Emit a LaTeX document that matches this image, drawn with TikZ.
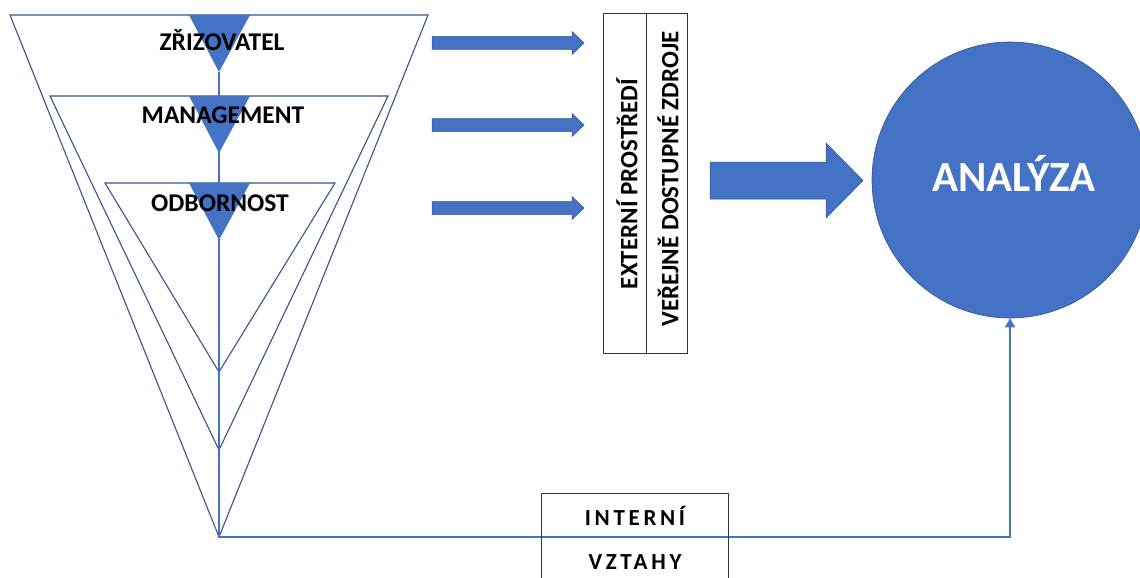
\documentclass[tikz,border=0pt]{standalone}
\usepackage{fontspec}
\setmainfont{Carlito}
\usetikzlibrary{arrows.meta}
\definecolor{ofblue}{HTML}{4472C4}
\definecolor{ofdark}{HTML}{2F528F}
\definecolor{trline}{HTML}{34548A}
\begin{document}
\begin{tikzpicture}[x=1pt,y=-1pt,
  funnel/.style={draw=trline,line width=1.1pt},
  marker/.style={fill=ofblue,draw=none},
  label/.style={font=\bfseries\fontsize{25.5}{25.5}\selectfont,text=black,inner sep=0pt},
  blockarrow/.style={fill=ofblue,draw=ofdark,line width=0.5pt},
  conn/.style={draw=ofblue,line width=2pt},
  frame/.style={draw=black!80,line width=0.9pt},
  vtext/.style={font=\bfseries\fontsize{25}{25}\selectfont,rotate=90,inner sep=0pt},
  spaced/.style={font=\bfseries\fontsize{23}{23}\selectfont\addfontfeatures{LetterSpace=16},inner sep=0pt}]
\useasboundingbox (0,0) rectangle (1140,578);
% funnel triangles
\draw[funnel] (10,15) -- (428,15) -- (219,537) -- cycle;
\draw[funnel] (50,96) -- (388,96) -- (219,450) -- cycle;
\draw[funnel] (105,183) -- (335,183) -- (219,372) -- cycle;
% named points
\coordinate (t1) at (219,72);
\coordinate (apex) at (219,537);
% target circle
\node[circle,fill=ofblue,draw=ofdark,line width=0.6pt,minimum size=276pt,inner sep=0pt] (circ) at (1010,180) {};
% connector
\draw[conn,-{Triangle[length=9pt,width=10pt]}] (t1) -- (apex) -| (circ.south);
% blue markers
\fill[marker] (189,15) -- (250,15) -- (219,72) -- cycle;
\fill[marker] (189,96) -- (250,96) -- (219,153) -- cycle;
\fill[marker] (189,183) -- (250,183) -- (219,240) -- cycle;
% level labels
\node[label] (zriz) at (222,40) {ZŘIZOVATEL};
\node[label] (mgmt) at (223,115) {MANAGEMENT};
\node[label] (odb) at (220,203) {ODBORNOST};
% small arrows
\foreach \y in {43,125,208}{
  \draw[blockarrow] (432,\y-6.5) -- (572,\y-6.5) -- (572,\y-11.5) -- (584,\y) -- (572,\y+11.5) -- (572,\y+6.5) -- (432,\y+6.5) -- cycle;
}
% external box
\node[frame,minimum width=43pt,minimum height=340pt,inner sep=0pt] (ext) at (625,183) {};
\node[frame,minimum width=41pt,minimum height=340pt,inner sep=0pt] (pub) at (666.5,183) {};
\node[vtext] (exttxt) at (627,184) {EXTERNÍ PROSTŘEDÍ};
\node[vtext] (pubtxt) at (668,179) {VEŘEJNĚ DOSTUPNÉ ZDROJE};
% big arrow
\draw[blockarrow] (710,162) -- (826,162) -- (826,143) -- (863,180.5) -- (826,218) -- (826,199) -- (710,199) -- cycle;
\node[font=\bfseries\fontsize{43}{43}\selectfont,text=white] (antxt) at (1014,173) {ANALÝZA};
% internal box
\draw[frame] (541,600) -- (541,493) -- (728,493) -- (728,600);
\node[spaced] (intr) at (635,516) {INTERNÍ};
\node[spaced] (vzt) at (635,562) {VZTAHY};
\end{tikzpicture}
\end{document}
